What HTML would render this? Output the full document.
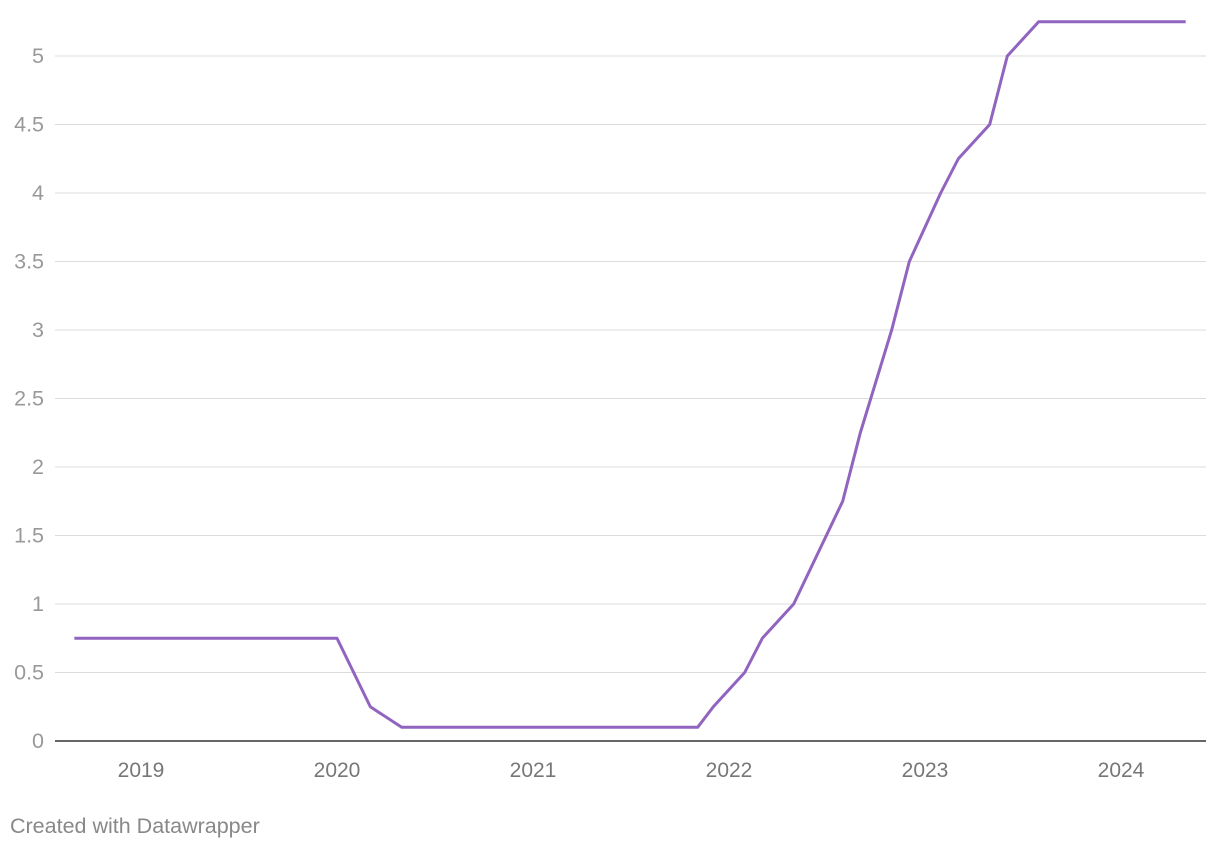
<!DOCTYPE html>
<html><head><meta charset="utf-8"><style>
body{margin:0;background:#fff;width:1220px;height:850px;overflow:hidden;font-family:"Liberation Sans",sans-serif;}
svg{position:absolute;left:0;top:0}
.footer{position:absolute;left:10px;top:814px;font-size:21.5px;color:#888}
</style></head><body>
<svg width="1220" height="850">
<g id="grid"></g><g id="xlab"></g><path id="line" fill="none" stroke="#9164c0" stroke-width="3" stroke-linejoin="round"/>
</svg>
<div class="footer">Created with Datawrapper</div>
<script>
const yTicks=[0,0.5,1,1.5,2,2.5,3,3.5,4,4.5,5];
const yTickLabels=["0","0.5","1","1.5","2","2.5","3","3.5","4","4.5","5"];
const xTicks=[2019,2020,2021,2022,2023,2024];
const dates=[2018.66,2020.0,2020.17,2020.33,2021.84,2021.92,2022.08,2022.17,2022.33,2022.58,2022.67,2022.83,2022.92,2023.08,2023.17,2023.33,2023.42,2023.58,2024.33];
const rates=[0.75,0.75,0.25,0.1,0.1,0.25,0.5,0.75,1,1.75,2.25,3,3.5,4,4.25,4.5,5,5.25,5.25];
const NS="http://www.w3.org/2000/svg";
const x=t=>141+(t-2019)*196;
const y=v=>741-v*137;
const g=document.getElementById('grid'),xl=document.getElementById('xlab');
yTicks.forEach((v,i)=>{
 const l=document.createElementNS(NS,'line');
 l.setAttribute('x1',55);l.setAttribute('x2',1206);l.setAttribute('y1',y(v));l.setAttribute('y2',y(v));
 l.setAttribute('stroke',v===0?'#333':'#dcdcdc');l.setAttribute('stroke-width',v===0?1.5:1);
 
 
 g.appendChild(l);
 const t=document.createElementNS(NS,'text');
 t.setAttribute('x',44);t.setAttribute('y',y(v)+7);t.setAttribute('text-anchor','end');
 t.setAttribute('font-size','21.5');t.setAttribute('fill','#999');t.textContent=yTickLabels[i];
 
 
 g.appendChild(t);
});
xTicks.forEach(v=>{
 const t=document.createElementNS(NS,'text');
 t.setAttribute('x',x(v));t.setAttribute('y',777);t.setAttribute('text-anchor','middle');
 t.setAttribute('font-size','21');t.setAttribute('fill','#777');t.textContent=v;
 
 
 xl.appendChild(t);
});
document.getElementById('line').setAttribute('d',dates.map((d,i)=>(i?'L':'M')+x(d)+','+y(rates[i])).join(''));
</script>
</body></html>
